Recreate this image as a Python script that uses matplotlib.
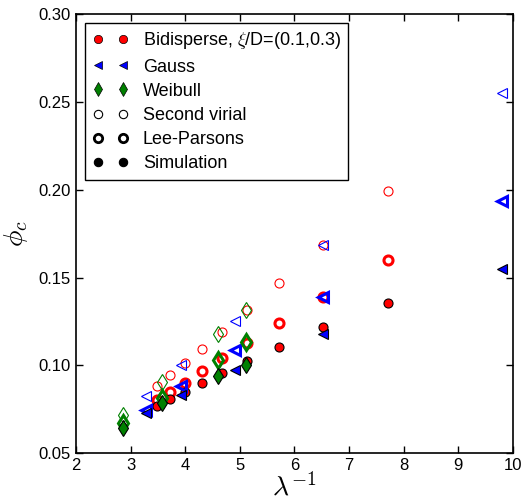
import matplotlib
matplotlib.use("Agg")
import matplotlib.pyplot as plt

plt.rcParams['font.family'] = ['Liberation Sans', 'DejaVu Sans']
plt.rcParams['mathtext.fontset'] = 'cm'

# Bidisperse, xi/D = (0.1, 0.3)
bi_x = [3.49, 3.73, 3.99, 4.30, 4.68, 5.13, 5.72, 6.53, 7.72]
bi_sv = [0.0884, 0.0945, 0.1015, 0.1091, 0.1191, 0.1314, 0.1470, 0.1684, 0.1992]
bi_lp = [0.0803, 0.0850, 0.0901, 0.0966, 0.1040, 0.1125, 0.1242, 0.1390, 0.1598]
bi_sim = [0.0769, 0.0807, 0.0850, 0.0898, 0.0958, 0.1024, 0.1106, 0.1216, 0.1356]

# Gauss
ga_x = [3.28, 3.93, 4.91, 6.53, 9.79]
ga_sv = [0.0824, 0.1002, 0.1253, 0.1684, 0.2553]
ga_lp = [0.0746, 0.0884, 0.1087, 0.1390, 0.1935]
ga_sim = [0.0727, 0.0831, 0.0973, 0.1180, 0.1550]

# Weibull
we_x = [2.86, 3.57, 4.60, 5.12]
we_sv = [0.0718, 0.0907, 0.1180, 0.1314]
we_lp = [0.0670, 0.0812, 0.1030, 0.1130]
we_sim = [0.0645, 0.0788, 0.0939, 0.1000]

fig = plt.figure(figsize=(5.24, 5.04), dpi=100)
ax = fig.add_axes([0.145, 0.101, 0.834, 0.871])

groups = [
    (bi_x, bi_sv, bi_lp, bi_sim, 'red', 'o', 6.5),
    (ga_x, ga_sv, ga_lp, ga_sim, 'blue', '<', 7),
    (we_x, we_sv, we_lp, we_sim, 'green', 'd', 8),
]
for x, sv, lp, sim, c, m, ms in groups:
    ax.plot(x, sv, ls='none', marker=m, ms=ms, mfc='none', mec=c, mew=0.8)
    ax.plot(x, lp, ls='none', marker=m, ms=ms, mfc='none', mec=c, mew=2.2)
    ax.plot(x, sim, ls='none', marker=m, ms=ms, mfc=c, mec='black', mew=0.8)

# legend proxies
h = []
h += ax.plot([], [], ls='none', marker='o', ms=6, mfc='red', mec='black', mew=0.5,
             label=r'Bidisperse, $\xi$/D=(0.1,0.3)')
h += ax.plot([], [], ls='none', marker='<', ms=6, mfc='blue', mec='black', mew=0.5,
             label='Gauss')
h += ax.plot([], [], ls='none', marker='d', ms=7, mfc='green', mec='black', mew=0.5,
             label='Weibull')
h += ax.plot([], [], ls='none', marker='o', ms=6, mfc='none', mec='black', mew=0.8,
             label='Second virial')
h += ax.plot([], [], ls='none', marker='o', ms=6, mfc='none', mec='black', mew=2.0,
             label='Lee-Parsons')
h += ax.plot([], [], ls='none', marker='o', ms=6, mfc='black', mec='black', mew=0.8,
             label='Simulation')
leg = ax.legend(handles=h, loc='upper left', numpoints=2, fontsize=13,
                fancybox=False, framealpha=1, borderaxespad=0.5, borderpad=0.4,
                handlelength=2.0, handletextpad=0.8, labelspacing=0.4)
leg.get_frame().set_edgecolor('black')
leg.get_frame().set_linewidth(1.0)

ax.set_xlim(2, 10)
ax.set_ylim(0.05, 0.30)
ax.set_xticks(range(2, 11))
ax.set_yticks([0.05, 0.10, 0.15, 0.20, 0.25, 0.30])
ax.set_yticklabels(['0.05', '0.10', '0.15', '0.20', '0.25', '0.30'])
ax.tick_params(direction='in', top=True, right=True, labelsize=12, length=5, width=1)
for s in ax.spines.values():
    s.set_linewidth(1.2)
ax.set_xlabel(r'$\lambda^{-1}$', fontsize=20, labelpad=0)
ax.set_ylabel(r'$\phi_c$', fontsize=20, labelpad=6)

fig.savefig('out.png', dpi=100)
